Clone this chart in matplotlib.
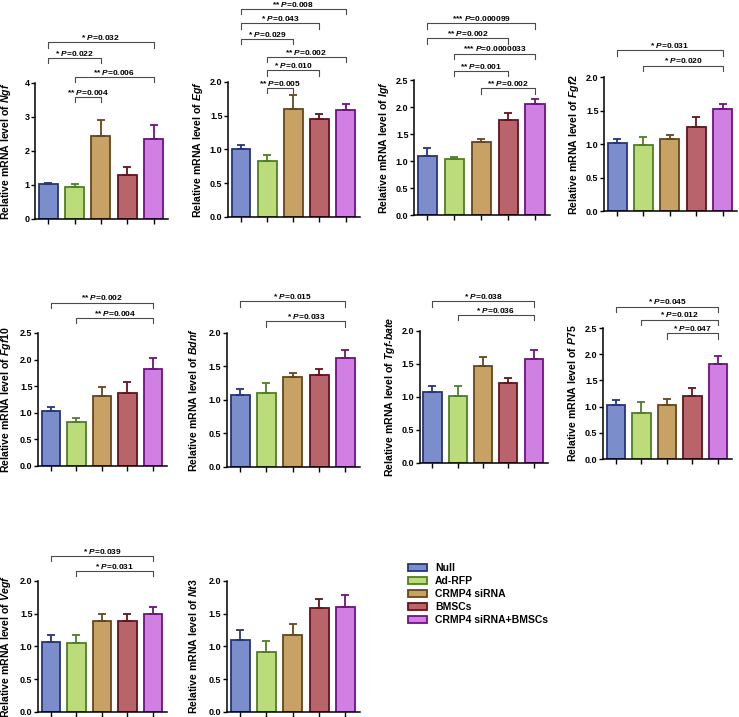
import numpy as np
import matplotlib.pyplot as plt
from matplotlib.patches import Patch

plt.rcParams['font.family'] = ['Liberation Sans', 'DejaVu Sans']
plt.rcParams['mathtext.fontset'] = 'custom'
plt.rcParams['mathtext.rm'] = 'Liberation Sans:bold'
plt.rcParams['mathtext.it'] = 'Liberation Sans:italic:bold'
plt.rcParams['mathtext.bf'] = 'Liberation Sans:bold'

groups = ['Null', 'Ad-RFP', 'CRMP4 siRNA', 'BMSCs', 'CRMP4 siRNA+BMSCs']
fills = ['#7b8dca', '#bcdc7c', '#c8a165', '#b9646b', '#d07fe2']
edges = ['#25357e', '#4f7f22', '#67461a', '#66131d', '#720f86']

genes = ['Ngf', 'Egf', 'Igf', 'Fgf2', 'Fgf10', 'Bdnf', 'Tgf-bate', 'P75', 'Vegf', 'Nt3']

# mean and upper error (SEM) per group
ngf_mean = [1.02, 0.95, 2.43, 1.30, 2.35]
ngf_err = [0.05, 0.07, 0.47, 0.24, 0.41]
egf_mean = [1.01, 0.83, 1.60, 1.45, 1.59]
egf_err = [0.05, 0.09, 0.21, 0.08, 0.09]
igf_mean = [1.10, 1.03, 1.36, 1.76, 2.05]
igf_err = [0.15, 0.05, 0.05, 0.12, 0.10]
fgf2_mean = [1.01, 0.98, 1.08, 1.26, 1.52]
fgf2_err = [0.06, 0.12, 0.05, 0.14, 0.07]
fgf10_mean = [1.04, 0.83, 1.32, 1.38, 1.83]
fgf10_err = [0.06, 0.08, 0.16, 0.19, 0.20]
bdnf_mean = [1.07, 1.11, 1.34, 1.37, 1.63]
bdnf_err = [0.10, 0.15, 0.07, 0.09, 0.11]
tgf_mean = [1.07, 1.01, 1.47, 1.21, 1.57]
tgf_err = [0.10, 0.15, 0.14, 0.08, 0.14]
p75_mean = [1.03, 0.87, 1.04, 1.21, 1.82]
p75_err = [0.09, 0.22, 0.10, 0.15, 0.15]
vegf_mean = [1.07, 1.05, 1.39, 1.39, 1.50]
vegf_err = [0.10, 0.12, 0.11, 0.11, 0.11]
nt3_mean = [1.10, 0.92, 1.17, 1.58, 1.60]
nt3_err = [0.15, 0.16, 0.17, 0.14, 0.19]

# significance comparisons: (group a, group b, stars, P)
ngf_sig = [(0, 4, '*', '0.032'), (0, 2, '*', '0.022'), (1, 4, '**', '0.006'), (1, 2, '**', '0.004')]
egf_sig = [(0, 4, '**', '0.008'), (0, 3, '*', '0.043'), (0, 2, '*', '0.029'),
           (1, 4, '**', '0.002'), (1, 3, '*', '0.010'), (1, 2, '**', '0.005')]
igf_sig = [(0, 4, '***', '0.000099'), (0, 3, '**', '0.002'), (1, 4, '***', '0.0000033'),
           (1, 3, '**', '0.001'), (2, 4, '**', '0.002')]
fgf2_sig = [(0, 4, '*', '0.031'), (1, 4, '*', '0.020')]
fgf10_sig = [(0, 4, '**', '0.002'), (1, 4, '**', '0.004')]
bdnf_sig = [(0, 4, '*', '0.015'), (1, 4, '*', '0.033')]
tgf_sig = [(0, 4, '*', '0.038'), (1, 4, '*', '0.036')]
p75_sig = [(0, 4, '*', '0.045'), (1, 4, '*', '0.012'), (2, 4, '*', '0.047')]
vegf_sig = [(0, 4, '*', '0.039'), (1, 4, '*', '0.031')]
nt3_sig = []

means = [ngf_mean, egf_mean, igf_mean, fgf2_mean, fgf10_mean, bdnf_mean, tgf_mean, p75_mean, vegf_mean, nt3_mean]
errs = [ngf_err, egf_err, igf_err, fgf2_err, fgf10_err, bdnf_err, tgf_err, p75_err, vegf_err, nt3_err]
sigs = [ngf_sig, egf_sig, igf_sig, fgf2_sig, fgf10_sig, bdnf_sig, tgf_sig, p75_sig, vegf_sig, nt3_sig]

# layout
ymaxes = [4, 2.0, 2.5, 2.0, 2.5, 2.0, 2.0, 2.5, 2.0, 2.0]
sig_levels = [[5.2, 4.74, 4.18, 3.59],
              [3.08, 2.87, 2.64, 2.37, 2.17, 1.91],
              [3.55, 3.27, 2.99, 2.67, 2.35],
              [2.40, 2.17],
              [3.07, 2.78],
              [2.475, 2.175],
              [2.45, 2.24],
              [2.91, 2.66, 2.40],
              [2.38, 2.15],
              []]
positions = [(0.0474, 0.6946, 0.180, 0.1897),
             (0.3085, 0.6974, 0.1786, 0.1883),
             (0.5602, 0.7001, 0.184, 0.1883),
             (0.8173, 0.7057, 0.180, 0.1869),
             (0.0514, 0.3501, 0.1746, 0.1855),
             (0.3070, 0.3487, 0.180, 0.1869),
             (0.5680, 0.3543, 0.173, 0.1841),
             (0.8160, 0.3598, 0.1746, 0.1827),
             (0.0514, 0.0070, 0.1746, 0.1827),
             (0.3070, 0.0070, 0.180, 0.1827)]
label_offsets = [27, 28, 28, 28, 30, 33, 28, 30, 30, 33]  # px from axis to label centre

W, H = 739, 717
fig = plt.figure(figsize=(W / 100, H / 100), dpi=100)

x = np.arange(len(groups))
for g, gene in enumerate(genes):
    ax = fig.add_axes(positions[g])
    ymax = ymaxes[g]
    ax.bar(x, means[g], width=0.72, color=fills, edgecolor=edges, linewidth=1.3, zorder=2)
    for k in range(len(groups)):
        ax.errorbar(x[k], means[g][k], yerr=[[0], [errs[g][k]]], fmt='none', ecolor=edges[k],
                    elinewidth=1.3, capsize=3, capthick=1.3, zorder=3)
    ax.set_xlim(-0.5, 4.55)
    ax.set_ylim(0, ymax)
    if ymax == 4:
        ax.set_yticks([0, 1, 2, 3, 4])
        ax.set_yticklabels(['0', '1', '2', '3', '4'])
    else:
        ticks = np.arange(0, ymax + 0.01, 0.5)
        ax.set_yticks(ticks)
        ax.set_yticklabels(['%.1f' % t for t in ticks])
    ax.set_xticks(x)
    ax.set_xticklabels([])
    ax.tick_params(axis='y', length=3, width=1, pad=1, labelsize=6.5)
    ax.tick_params(axis='x', length=3.5, width=1)
    for lab in ax.get_yticklabels():
        lab.set_fontweight('bold')
    for s in ['top', 'right']:
        ax.spines[s].set_visible(False)
    for s in ['left', 'bottom']:
        ax.spines[s].set_linewidth(1.1)
    name = gene.replace('-', '}$-$\\mathit{')
    ax.set_ylabel('Relative mRNA level of $\\mathit{' + name + '}$', fontsize=7.6, fontweight='bold')
    ax.yaxis.set_label_coords(-(label_offsets[g] - 5.3) / (positions[g][2] * W), 0.5)

    tick = 0.04 * ymax
    for (a, b, stars, p), lvl in zip(sigs[g], sig_levels[g]):
        ax.plot([a, a, b, b], [lvl - tick, lvl, lvl, lvl - tick], color='#4a4a4a', lw=0.8, clip_on=False)
        ax.annotate(stars + ' $\\mathit{P}$=' + p, xy=((a + b) / 2, lvl), xytext=(0, 1.6),
                    textcoords='offset points', ha='center', va='baseline',
                    fontsize=6, fontweight='bold', annotation_clip=False)

handles = [Patch(facecolor=fills[k], edgecolor=edges[k], linewidth=1.3) for k in range(len(groups))]
leg = fig.legend(handles, groups, loc='upper left', bbox_to_anchor=(0.552, 0.215), frameon=False,
                 prop={'size': 7.5, 'weight': 'bold'}, handlelength=1.8, handleheight=0.65,
                 handletextpad=0.8, labelspacing=0.3, borderaxespad=0, borderpad=0)

fig.savefig('out.png', dpi=100)
